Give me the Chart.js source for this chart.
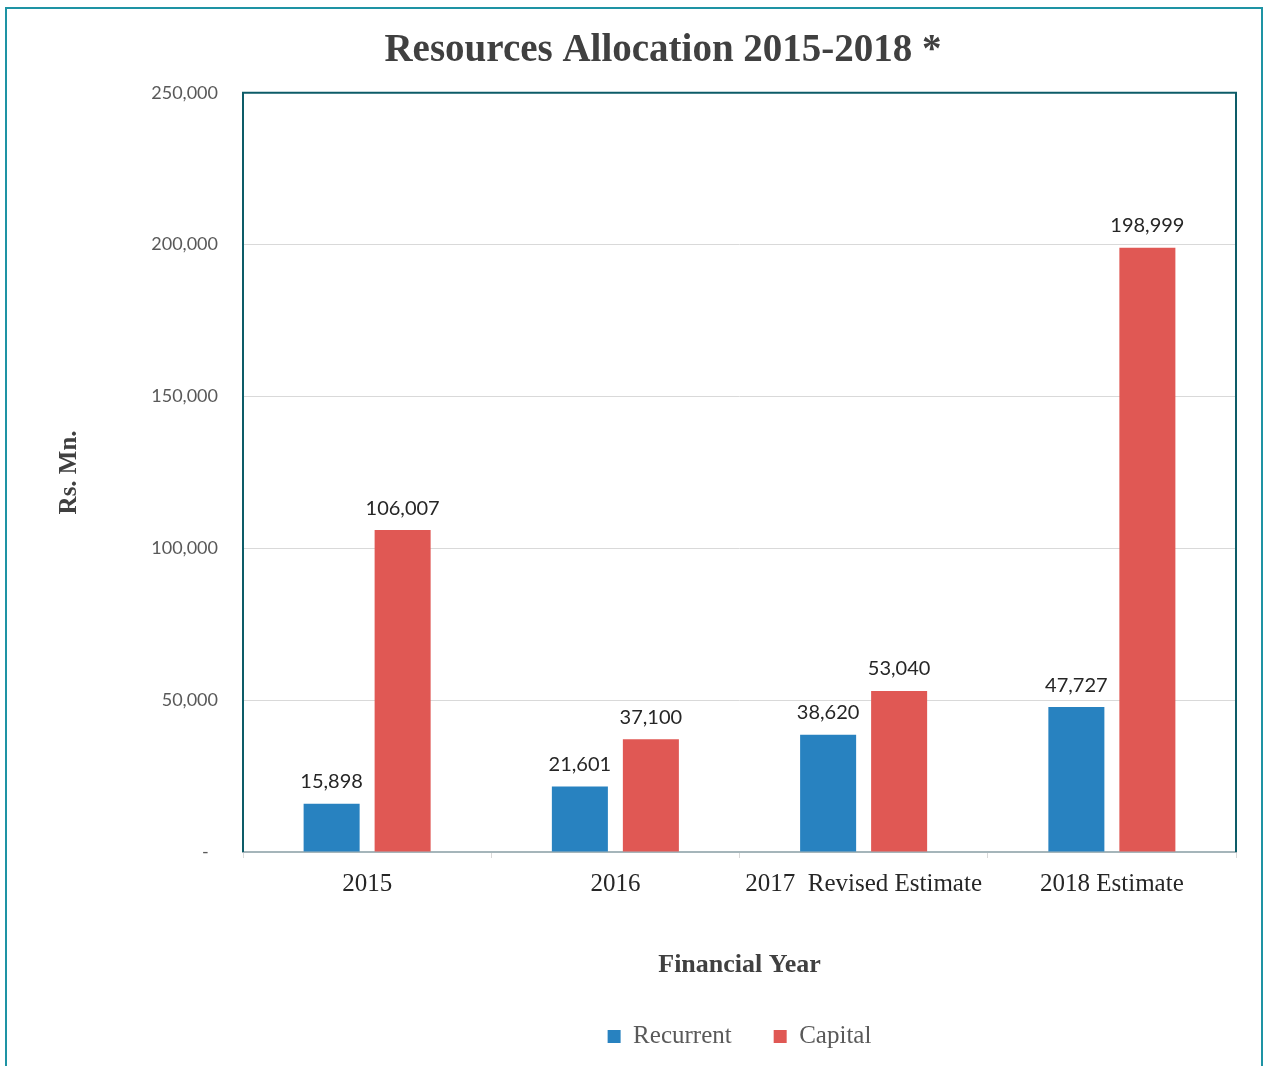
<!DOCTYPE html>
<html lang="en">
<head>
<meta charset="UTF-8">
<title>Resources Allocation 2015-2018</title>
<script src="https://cdn.jsdelivr.net/npm/chart.js"></script>
<style>
    html, body {
        margin: 0;
        overflow: hidden;
        background: #ffffff;
    }

    /* teal frame round the whole chart, open at the bottom */
    .frame {
        position: absolute;
        left: 5px;
        top: 7px;
        width: 1258px;
        height: 1100px;
        box-sizing: border-box;
        border: 2px solid #1e93a4;
    }

    .wrap {
        position: absolute;
        left: 0;
        top: 0;
        width: 1264px;
        height: 1066px;
    }
</style>
</head>
<body>
<div class="frame"></div>
<div class="wrap"><canvas id="chart" width="1264" height="1066"></canvas></div>

<script>
    const years = ['2015', '2016', '2017  Revised Estimate', '2018 Estimate'];
    const recurrent = [15898, 21601, 38620, 47727];
    const capital = [106007, 37100, 53040, 198999];

    const SERIF = "'Liberation Serif', serif";
    const SANS = "Lato, sans-serif";

    // dark teal border on the top, left and right of the plot area
    const plotFrame = {
        id: 'plotFrame',
        afterDraw(chart) {
            const { ctx, chartArea: a } = chart;
            ctx.save();
            ctx.strokeStyle = '#0d5c68';
            ctx.lineWidth = 2;
            ctx.beginPath();
            ctx.moveTo(a.left, a.bottom);
            ctx.lineTo(a.left, a.top);
            ctx.lineTo(a.right, a.top);
            ctx.lineTo(a.right, a.bottom);
            ctx.stroke();
            ctx.restore();
        }
    };

    // value written above each bar
    const valueLabels = {
        id: 'valueLabels',
        afterDatasetsDraw(chart) {
            const ctx = chart.ctx;
            ctx.save();
            ctx.font = '20px ' + SANS;
            ctx.fillStyle = '#262626';
            ctx.textAlign = 'center';
            ctx.textBaseline = 'middle';
            chart.data.datasets.forEach((ds, i) => {
                chart.getDatasetMeta(i).data.forEach((bar, j) => {
                    ctx.fillText(ds.data[j].toLocaleString('en-US'), bar.x, bar.y - 22);
                });
            });
            ctx.restore();
        }
    };

    new Chart(document.getElementById('chart'), {
        type: 'bar',
        data: {
            labels: years,
            datasets: [
                {
                    label: 'Recurrent',
                    data: recurrent,
                    backgroundColor: '#2882c0',
                    categoryPercentage: 0.572,
                    barPercentage: 0.789
                },
                {
                    label: 'Capital',
                    data: capital,
                    backgroundColor: '#e05854',
                    categoryPercentage: 0.572,
                    barPercentage: 0.789
                }
            ]
        },
        options: {
            responsive: false,
            animation: false,
            // wide left padding keeps the title centred a little right of the canvas middle
            layout: {
                padding: { left: 90, right: 28, top: 0, bottom: 7 }
            },
            plugins: {
                title: {
                    display: true,
                    text: 'Resources Allocation 2015-2018 *',
                    color: '#404040',
                    font: { family: SERIF, size: 39, weight: 'bold' },
                    padding: { top: 28, bottom: 18 }
                },
                legend: {
                    position: 'bottom',
                    fullSize: false,
                    labels: {
                        color: '#595959',
                        font: { family: SERIF, size: 25 },
                        boxWidth: 13,
                        boxHeight: 13,
                        padding: 42
                    }
                },
                tooltip: { enabled: false }
            },
            scales: {
                x: {
                    grid: {
                        offset: true,
                        drawOnChartArea: false,
                        drawTicks: true,
                        tickLength: 6,
                        color: '#d9d9d9'
                    },
                    border: { color: '#a5b5ba', width: 2 },
                    ticks: {
                        color: '#262626',
                        font: { family: SERIF, size: 25 },
                        padding: 11,
                        maxRotation: 0
                    },
                    title: {
                        display: true,
                        text: 'Financial Year',
                        color: '#404040',
                        font: { family: SERIF, size: 26, weight: 'bold' },
                        padding: { top: 0, bottom: 1 }
                    },
                    afterFit(scale) { scale.height = 130; }
                },
                y: {
                    min: 0,
                    max: 250000,
                    grid: {
                        color: '#d9d9d9',
                        drawTicks: false
                    },
                    border: { display: false },
                    ticks: {
                        stepSize: 50000,
                        color: '#595959',
                        font: { family: SANS, size: 18 },
                        padding: 25,
                        callback: v => v === 0 ? '-  ' : v.toLocaleString('en-US')
                    },
                    title: {
                        display: true,
                        text: 'Rs. Mn.',
                        color: '#404040',
                        font: { family: SERIF, size: 25, weight: 'bold' },
                        // pulled left, out past the layout padding
                        padding: { top: -35, bottom: 0 }
                    },
                    afterFit(scale) { scale.width = 153; }
                }
            }
        },
        plugins: [plotFrame, valueLabels]
    });
</script>
</body>
</html>
